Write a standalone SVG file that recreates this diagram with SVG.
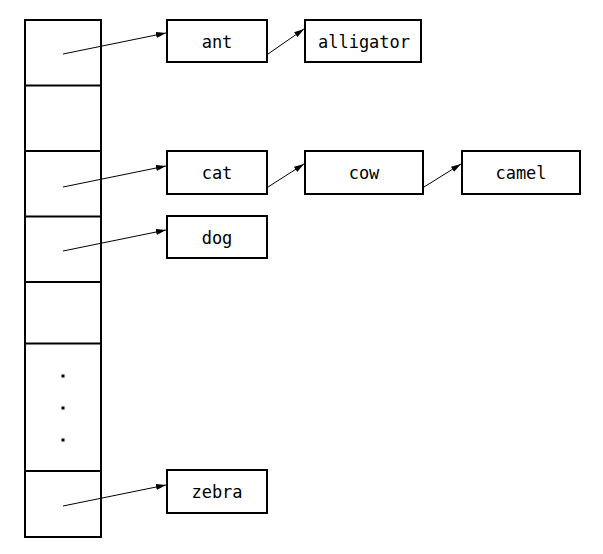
<svg xmlns="http://www.w3.org/2000/svg" width="603" height="554" viewBox="0 0 603 554">
<defs>
<style>
.box{fill:#fff;stroke:#000;stroke-width:2}
.cell{fill:none;stroke:#000;stroke-width:2}
.lbl{font-family:"DejaVu Sans Mono",monospace;font-size:17px;text-anchor:middle;fill:#000}
.conn{stroke:#000;stroke-width:1;fill:none;marker-end:url(#ah)}
</style>
<marker id="ah" viewBox="0 0 10 6" refX="10" refY="3" markerWidth="10" markerHeight="6" markerUnits="userSpaceOnUse" orient="auto">
<path d="M0,0 L10,3 L0,6 z" fill="#000"/>
</marker>
</defs>
<rect width="603" height="554" fill="#fff"/>
<g id="table">
<rect class="cell" x="25" y="20" width="76" height="517"/>
<line class="cell" x1="25" y1="85.5" x2="101" y2="85.5"/>
<line class="cell" x1="25" y1="151" x2="101" y2="151"/>
<line class="cell" x1="25" y1="216.5" x2="101" y2="216.5"/>
<line class="cell" x1="25" y1="282" x2="101" y2="282"/>
<line class="cell" x1="25" y1="343.5" x2="101" y2="343.5"/>
<line class="cell" x1="25" y1="471" x2="101" y2="471"/>
<rect x="61.5" y="374.5" width="3" height="3" fill="#000"/>
<rect x="61.5" y="406.5" width="3" height="3" fill="#000"/>
<rect x="61.5" y="438.5" width="3" height="3" fill="#000"/>
</g>
<g id="ant"><rect class="box" x="167" y="20" width="100" height="42"/><text class="lbl" x="217" y="48">ant</text></g>
<g id="alligator"><rect class="box" x="305" y="20" width="116" height="42"/><text class="lbl" x="364" y="48">alligator</text></g>
<g id="cat"><rect class="box" x="167" y="151" width="100" height="43"/><text class="lbl" x="217" y="179">cat</text></g>
<g id="cow"><rect class="box" x="305" y="151" width="118" height="43"/><text class="lbl" x="364" y="179">cow</text></g>
<g id="camel"><rect class="box" x="462" y="151" width="118" height="43"/><text class="lbl" x="521" y="179">camel</text></g>
<g id="dog"><rect class="box" x="167" y="216" width="100" height="42"/><text class="lbl" x="217" y="244">dog</text></g>
<g id="zebra"><rect class="box" x="167" y="470" width="100" height="43"/><text class="lbl" x="217" y="498">zebra</text></g>
<g id="connectors">
<line class="conn" x1="63" y1="54" x2="166" y2="33"/>
<line class="conn" x1="268" y1="54" x2="304" y2="29"/>
<line class="conn" x1="63" y1="187" x2="166" y2="166"/>
<line class="conn" x1="268" y1="187" x2="304" y2="164"/>
<line class="conn" x1="424" y1="187" x2="461" y2="164"/>
<line class="conn" x1="63" y1="251" x2="166" y2="230"/>
<line class="conn" x1="63" y1="506" x2="166" y2="485"/>
</g>
</svg>
